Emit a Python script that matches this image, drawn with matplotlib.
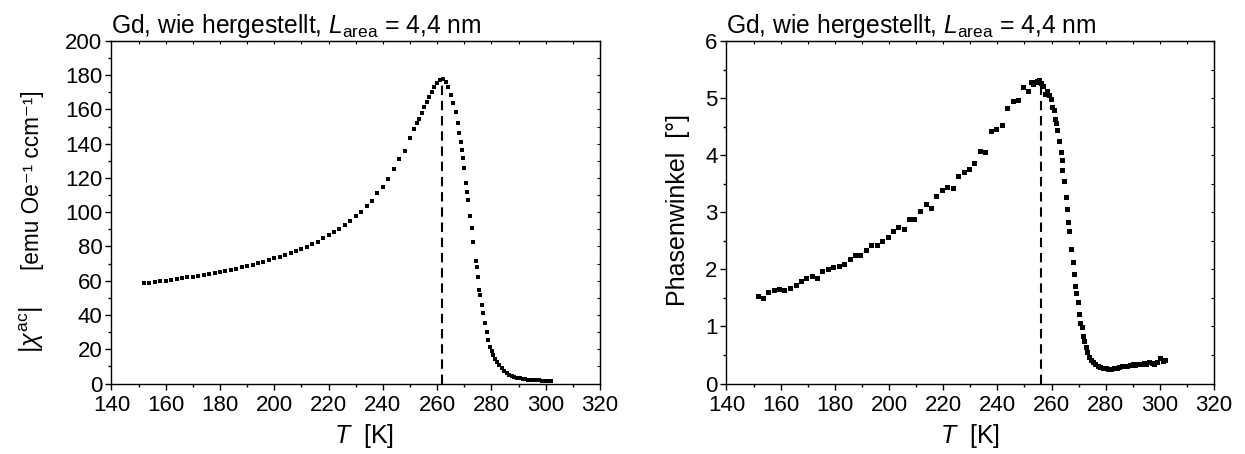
import matplotlib
matplotlib.use("Agg")
import matplotlib.pyplot as plt
from matplotlib.ticker import MultipleLocator

FONT = ['Liberation Sans', 'DejaVu Sans']
plt.rcParams['font.family'] = FONT
plt.rcParams['mathtext.fontset'] = 'custom'
plt.rcParams['mathtext.rm'] = 'Liberation Sans'
plt.rcParams['mathtext.it'] = 'Liberation Sans:italic'
plt.rcParams['mathtext.bf'] = 'Liberation Sans:bold'

# ---------------- data ----------------
T_chi = [152, 154, 156, 158, 160, 162, 164, 166, 168, 170, 172, 174, 176, 178, 180,
         182, 184, 186, 188, 190, 192, 194, 196, 198, 200, 202, 204, 206, 208, 210,
         212, 214, 216, 218, 220, 222, 224, 226, 228, 230, 232, 234, 236, 238, 240,
         242, 244, 246, 248, 250, 251.6, 252.5, 253.4, 254.3, 255.3, 256.2, 257.1, 258,
         259, 260.1, 261.1, 262.3, 263.3, 264.1, 265.1, 266, 267, 267.6, 268.1, 268.7,
         269.1, 269.4, 269.9, 270.6, 271.1, 271.5, 272.1, 272.7, 273.3, 274.2, 274.6,
         275, 275.4, 275.8, 276.4, 277, 277.6, 278.3, 278.9, 279.5, 280.1, 280.7, 281.3,
         282, 282.9, 283.8, 284.7, 285.6, 286.5, 287.5, 288.5, 289.5, 290.5, 291.5,
         292.5, 293.5, 294.5, 295.5, 296.5, 297.5, 298.5, 299.5, 300.5, 301.3, 302]
chi = [58.5, 58.9, 59.3, 59.7, 60.1, 60.5, 60.9, 61.4, 61.9, 62.4, 62.9, 63.4, 63.9, 64.5, 65.1,
       65.7, 66.4, 67.1, 67.8, 68.6, 69.4, 70.2, 71.1, 72.0, 73.0, 74.0, 75.1, 76.2, 77.3, 78.3,
       79.7, 81.5, 82.8, 85.0, 86.8, 88.4, 90.2, 92.8, 95.0, 97.8, 100.2, 103.7, 106.4, 111.4, 115.0,
       119.4, 125.3, 131.0, 136.0, 143.2, 148.6, 151.9, 154.3, 157.8, 161.6, 164.6, 167.5, 170.4,
       173.3, 175.6, 177.2, 177.6, 176.2, 173.3, 168.5, 163.6, 158.4, 151.9, 146.5, 141.2,
       136.4, 131.5, 125.7, 117.3, 111.6, 107.2, 98.0, 91.0, 82.8, 71.7, 68.2,
       62.4, 54.6, 51.7, 45.8, 41.0, 35.2, 30.2, 25.4, 21.5, 19.0, 16.6, 14.5,
       12.7, 10.7, 8.9, 7.3, 6.0, 5.2, 4.5, 3.9, 3.4, 3.0, 2.7,
       2.5, 2.3, 2.1, 2.0, 1.9, 1.8, 1.7, 1.6, 1.5, 1.45, 1.4]

T_phase = [151.5, 153.4, 155.4, 157.5, 159.5, 161.3, 163.4, 165.5, 167.4, 169.4, 171.5, 173.4,
           175.4, 177.4, 179.4, 181.4, 183.5, 185.5, 187.4, 189.4, 191.5, 193.5, 195.5, 197.5,
           199.5, 201.4, 203.4, 205.4, 207.4, 209.3, 211.3, 213.5, 215.4, 217.5, 219.5, 221.5,
           223.5, 225.5, 227.6, 229.4, 231.5, 233.5, 235.4, 237.7, 239.5, 241.6, 243.7, 245.7,
           247.5, 249.6, 251.4, 252.3, 253.3, 254.2, 254.8, 255.4, 256.1, 256.8, 257.6, 258.5,
           259.2, 259.8, 260.3, 260.9, 261.3, 261.7, 262.1, 262.8, 263.4, 263.8, 264.0, 264.6,
           265.4, 265.6, 266.1, 266.6, 267.3, 267.8, 268.3, 268.8, 269.2, 269.6, 270.1, 270.5,
           271.1, 271.7, 272.1, 272.7, 273.2, 273.9, 274.5, 275.2, 276.1, 277, 278, 279, 280,
           281, 282, 283, 284, 285, 286, 287, 288, 289, 290, 291, 292, 293, 294, 295, 296,
           297, 298, 299, 300, 301, 302]
phase = [1.53, 1.50, 1.60, 1.63, 1.65, 1.63, 1.68, 1.73, 1.80, 1.85, 1.88, 1.85,
         1.97, 2.01, 2.04, 2.06, 2.10, 2.18, 2.25, 2.25, 2.33, 2.42, 2.43, 2.50,
         2.56, 2.68, 2.74, 2.70, 2.88, 2.88, 3.02, 3.14, 3.08, 3.28, 3.39, 3.44,
         3.43, 3.63, 3.71, 3.76, 3.86, 4.08, 4.06, 4.42, 4.46, 4.53, 4.82, 4.95,
         4.96, 5.20, 5.13, 5.28, 5.25, 5.29, 5.30, 5.32, 5.26, 5.21, 5.08, 5.12,
         5.06, 4.98, 4.85, 4.79, 4.64, 4.57, 4.44, 4.24, 4.06, 3.91, 3.74, 3.54,
         3.27, 3.06, 2.83, 2.68, 2.35, 2.13, 1.91, 1.71, 1.58, 1.42, 1.21, 1.06,
         0.99, 0.84, 0.75, 0.64, 0.55, 0.46, 0.41, 0.37, 0.34, 0.31, 0.29, 0.28, 0.27,
         0.26, 0.26, 0.27, 0.28, 0.29, 0.30, 0.31, 0.31, 0.33, 0.34, 0.33, 0.35, 0.34, 0.36, 0.35, 0.37,
         0.36, 0.34, 0.38, 0.44, 0.40, 0.41]

T_peak_chi = 261.7
chi_peak = 177.0
T_peak_phase = 256.1
phase_peak = 5.25

title_text = r'Gd, wie hergestellt, $L_{\mathrm{area}}$ = 4,4 nm'
xlabel_text = r'$T$  [K]'
ylabel_left_sym = r'$|\chi^{\mathrm{ac}}|$'
ylabel_left_unit = '[emu Oe⁻¹ ccm⁻¹]'
ylabel_right = 'Phasenwinkel  [°]'

# ---------------- figure ----------------
W, H = 1245, 454
fig = plt.figure(figsize=(W / 100, H / 100), dpi=100)
ax1 = fig.add_axes([111.4 / W, (H - 383.5) / H, 488.6 / W, 342.5 / H])
ax2 = fig.add_axes([726.5 / W, (H - 383.5) / H, 487.5 / W, 342.5 / H])

FS = 16


def style(ax, ymax, ymaj, ymin, xlab_x):
    ax.set_xlim(140, 320)
    ax.set_ylim(0, ymax)
    ax.xaxis.set_major_locator(MultipleLocator(20))
    ax.xaxis.set_minor_locator(MultipleLocator(10))
    ax.yaxis.set_major_locator(MultipleLocator(ymaj))
    ax.yaxis.set_minor_locator(MultipleLocator(ymin))
    for s in ax.spines.values():
        s.set_linewidth(1.0)
    ax.tick_params(which='both', direction='out', top=False, right=False,
                   labelsize=FS, width=1.0)
    ax.tick_params(axis='x', which='both', pad=3.5)
    ax.tick_params(axis='y', which='both', pad=2)
    ax.tick_params(which='major', length=4.5)
    ax.tick_params(which='minor', length=2.5)
    sec_x = ax.secondary_xaxis('top')
    sec_x.xaxis.set_major_locator(MultipleLocator(10))
    sec_x.tick_params(direction='in', length=2, width=0.8, labeltop=False)
    sec_x.set_xticklabels([])
    sec_y = ax.secondary_yaxis('right')
    sec_y.yaxis.set_major_locator(MultipleLocator(ymin))
    sec_y.tick_params(direction='in', length=2, width=0.8, labelright=False)
    sec_y.set_yticklabels([])
    ax.set_title(title_text, loc='left', fontsize=17.7, pad=6)
    ax.set_xlabel(xlabel_text, fontsize=FS + 2)
    ax.xaxis.set_label_coords(xlab_x, -0.112)


style(ax1, 200, 20, 10, 0.516)
style(ax2, 6, 1, 0.5, 0.5)

ax1.plot(T_chi, chi, 's', ms=3.3, mew=0, color='black')
ax1.plot([T_peak_chi, T_peak_chi], [0, chi_peak], color='black', lw=1.5,
         dashes=(4.5, 2.8))
# left y label: symbol and unit as two rotated texts (as in the reference)
fig.text(39 / W, (H - 330) / H, ylabel_left_sym, rotation=90, rotation_mode='anchor',
         ha='center', va='baseline', fontsize=FS + 2)
fig.text(39 / W, (H - 180) / H, ylabel_left_unit, rotation=90, rotation_mode='anchor',
         ha='center', va='baseline', fontsize=16.3, family=FONT)

ax2.plot(T_phase, phase, 's', ms=3.6, mew=0, color='black')
ax2.plot([T_peak_phase, T_peak_phase], [0, phase_peak], color='black', lw=1.5,
         dashes=(4.5, 2.8))
ax2.set_ylabel(ylabel_right, fontsize=FS + 2)
ax2.yaxis.set_label_coords(-0.075, 0.507)

fig.savefig('out.png', dpi=100)
